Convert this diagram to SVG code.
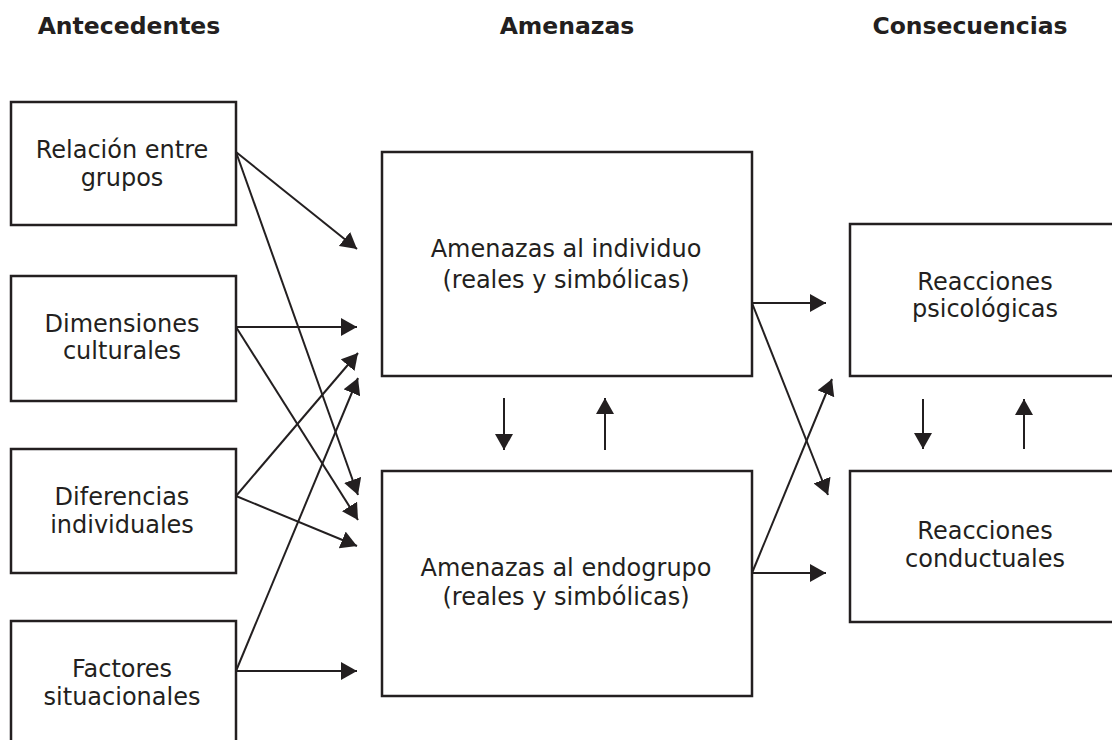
<svg xmlns="http://www.w3.org/2000/svg" width="1112" height="740" viewBox="0 0 1112 740">
<style>
.box{fill:#fff;stroke:#231f20;stroke-width:2.5}
.t{font-family:"DejaVu Sans",Verdana,sans-serif;font-size:24px;fill:#231f20;text-anchor:middle}
.h{font-family:"DejaVu Sans",Verdana,sans-serif;font-size:23.5px;font-weight:bold;fill:#231f20;text-anchor:middle}
.c line{stroke:#231f20;stroke-width:2;marker-end:url(#ah)}
</style>
<defs>
<marker id="ah" viewBox="0 0 16 18" refX="16" refY="9" markerWidth="16" markerHeight="18" markerUnits="userSpaceOnUse" orient="auto">
<path d="M0,0 L16,9 L0,18 z" fill="#231f20"/>
</marker>
</defs>
<rect width="1112" height="740" fill="#fff"/>
<text class="h" x="129" y="34">Antecedentes</text>
<text class="h" x="567" y="34">Amenazas</text>
<text class="h" x="970" y="34">Consecuencias</text>

<g id="relacion"><rect class="box" x="11" y="102" width="225" height="123"/>
<text class="t" x="122" y="158">Relación entre</text><text class="t" x="122" y="186">grupos</text></g>
<g id="dimensiones"><rect class="box" x="11" y="276" width="225" height="125"/>
<text class="t" x="122" y="332">Dimensiones</text><text class="t" x="122" y="359">culturales</text></g>
<g id="diferencias"><rect class="box" x="11" y="449" width="225" height="124"/>
<text class="t" x="122" y="505">Diferencias</text><text class="t" x="122" y="533">individuales</text></g>
<g id="factores"><rect class="box" x="11" y="621" width="225" height="125"/>
<text class="t" x="122" y="677">Factores</text><text class="t" x="122" y="705">situacionales</text></g>

<g id="individuo"><rect class="box" x="382" y="152" width="370" height="224"/>
<text class="t" x="566" y="257">Amenazas al individuo</text><text class="t" x="566" y="288">(reales y simbólicas)</text></g>
<g id="endogrupo"><rect class="box" x="382" y="471" width="370" height="225"/>
<text class="t" x="566" y="576">Amenazas al endogrupo</text><text class="t" x="566" y="605">(reales y simbólicas)</text></g>

<g id="psicologicas"><rect class="box" x="850" y="224" width="272" height="152"/>
<text class="t" x="985" y="290">Reacciones</text><text class="t" x="985" y="317">psicológicas</text></g>
<g id="conductuales"><rect class="box" x="850" y="471" width="272" height="151"/>
<text class="t" x="985" y="539">Reacciones</text><text class="t" x="985" y="567">conductuales</text></g>

<g id="connectors" class="c">
<line x1="236" y1="152" x2="357" y2="249"/>
<line x1="236" y1="152" x2="358" y2="495"/>
<line x1="236" y1="327" x2="357" y2="327"/>
<line x1="236" y1="327" x2="358" y2="520"/>
<line x1="236" y1="496" x2="358" y2="353"/>
<line x1="236" y1="496" x2="357" y2="546"/>
<line x1="236" y1="671" x2="358" y2="378"/>
<line x1="236" y1="671" x2="357" y2="671"/>
<line x1="752" y1="303" x2="826" y2="303"/>
<line x1="752" y1="303" x2="828" y2="495"/>
<line x1="752" y1="573" x2="826" y2="573"/>
<line x1="752" y1="573" x2="832" y2="379"/>
<line x1="504" y1="398" x2="504" y2="450"/>
<line x1="605" y1="450" x2="605" y2="398"/>
<line x1="923" y1="399" x2="923" y2="449"/>
<line x1="1024" y1="449" x2="1024" y2="399"/>
</g>
</svg>
